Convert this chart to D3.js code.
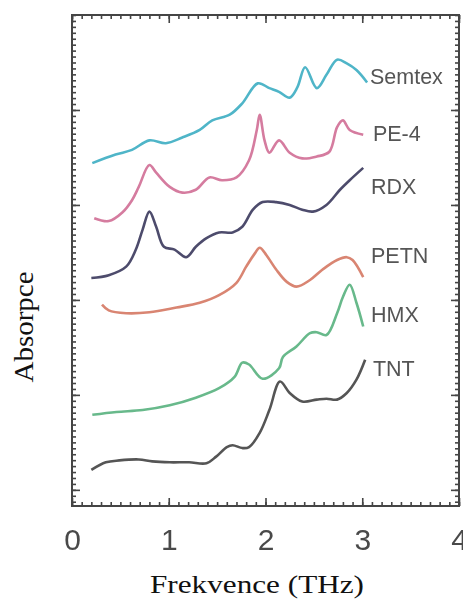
<!DOCTYPE html>
<html lang="cs">
<meta charset="utf-8">
<head>
  <script src="https://d3js.org/d3.v7.min.js"></script>
  <style>
    body { margin: 0; background: white; }
    .tick text { fill: #4a4a4a; font-family: "Liberation Sans", Arial, sans-serif; }
  </style>
</head>
<body>
<div id="chart"></div>
<script>
// frequency (THz) and absorbance (offset arbitrary units)
var semtexX = [0.21, 0.45, 0.62, 0.80, 0.97, 1.14, 1.32, 1.45, 1.63, 1.76, 1.92, 2.04, 2.14, 2.25, 2.33, 2.41, 2.53, 2.63, 2.74, 2.84, 2.94, 3.05];
var semtexY = [3.44, 3.53, 3.58, 3.68, 3.65, 3.71, 3.79, 3.89, 3.95, 4.07, 4.28, 4.23, 4.19, 4.13, 4.24, 4.45, 4.23, 4.37, 4.53, 4.49, 4.42, 4.29];

var pe4X = [0.23, 0.38, 0.52, 0.62, 0.69, 0.80, 0.87, 1.01, 1.14, 1.28, 1.42, 1.55, 1.70, 1.83, 1.91, 1.94, 1.99, 2.04, 2.14, 2.25, 2.38, 2.53, 2.66, 2.74, 2.80, 2.87, 3.01];
var pe4Y = [2.86, 2.83, 2.92, 3.05, 3.19, 3.42, 3.34, 3.19, 3.13, 3.16, 3.29, 3.26, 3.29, 3.47, 3.79, 3.95, 3.68, 3.55, 3.68, 3.55, 3.49, 3.51, 3.56, 3.82, 3.89, 3.79, 3.74];

var rdxX = [0.20, 0.38, 0.56, 0.66, 0.73, 0.80, 0.87, 0.95, 1.06, 1.18, 1.28, 1.39, 1.52, 1.66, 1.76, 1.87, 1.97, 2.11, 2.25, 2.38, 2.49, 2.63, 2.77, 2.87, 3.01];
var rdxY = [2.23, 2.26, 2.35, 2.53, 2.74, 2.93, 2.77, 2.56, 2.53, 2.45, 2.56, 2.65, 2.71, 2.71, 2.77, 2.95, 3.03, 3.03, 3.00, 2.95, 2.93, 3.00, 3.16, 3.26, 3.39];

var petnX = [0.31, 0.38, 0.56, 0.80, 1.08, 1.32, 1.52, 1.70, 1.80, 1.89, 1.94, 2.01, 2.11, 2.22, 2.32, 2.46, 2.59, 2.74, 2.84, 2.90, 3.01];
var petnY = [1.95, 1.89, 1.86, 1.87, 1.92, 1.97, 2.05, 2.18, 2.35, 2.49, 2.55, 2.47, 2.32, 2.19, 2.14, 2.21, 2.32, 2.42, 2.45, 2.42, 2.24];

var hmxX = [0.21, 0.46, 0.73, 1.01, 1.28, 1.52, 1.68, 1.76, 1.83, 1.97, 2.14, 2.18, 2.32, 2.46, 2.53, 2.63, 2.74, 2.80, 2.87, 2.94, 3.01];
var hmxY = [0.79, 0.82, 0.84, 0.89, 0.97, 1.07, 1.19, 1.34, 1.32, 1.17, 1.28, 1.40, 1.51, 1.65, 1.66, 1.63, 1.86, 2.03, 2.16, 1.97, 1.72];

var tntX = [0.20, 0.35, 0.49, 0.69, 0.83, 1.01, 1.21, 1.39, 1.49, 1.60, 1.66, 1.76, 1.83, 1.94, 2.04, 2.15, 2.25, 2.38, 2.53, 2.63, 2.74, 2.84, 2.94, 3.03];
var tntY = [0.21, 0.29, 0.31, 0.32, 0.30, 0.29, 0.29, 0.28, 0.35, 0.45, 0.47, 0.44, 0.45, 0.60, 0.84, 1.14, 1.02, 0.93, 0.95, 0.96, 0.95, 1.02, 1.16, 1.37];

var names = ["Semtex", "PE-4", "RDX", "PETN", "HMX", "TNT"];
var colors = ["#4fb5c8", "#d57b9f", "#4d4c6c", "#d98572", "#68b98b", "#555555"];
// label anchor: frequency and absorbance where each name sits
var labelX = [3.08, 3.11, 3.09, 3.09, 3.09, 3.11];
var labelY = [4.27, 3.67, 3.12, 2.39, 1.77, 1.20];

var xTicks = [0, 1, 2, 3, 4];

var series = [
  {x: semtexX, y: semtexY}, {x: pe4X, y: pe4Y}, {x: rdxX, y: rdxY},
  {x: petnX, y: petnY}, {x: hmxX, y: hmxY}, {x: tntX, y: tntY}
];

var margin = {top: 15, right: 4, bottom: 95, left: 72},
    width = 459 - margin.left,
    height = 506 - margin.top;

var svg = d3.select("#chart")
  .append("svg")
    .attr("width", 463)
    .attr("height", 601)
  .append("g")
    .attr("transform", `translate(${margin.left},${margin.top})`);

svg.append("defs").append("filter")
    .attr("id", "soft")
  .append("feGaussianBlur")
    .attr("stdDeviation", 0.55);

var x = d3.scaleLinear().domain([0, 4]).range([0, width]);
var y = d3.scaleLinear().domain([-0.17, 5.0]).range([height, 0]);

var minorX = d3.range(0, 40.5).map(function(d) { return d / 10; });
var minorY = d3.range(-2, 81).map(function(d) { return d / 16; }).filter(function(d) { return d >= -0.17; });

var axes = svg.append("g").attr("filter", "url(#soft)");

// minor ticks on all four sides
axes.append("g").attr("transform", `translate(0,${height})`)
  .call(d3.axisBottom(x).tickValues(minorX).tickSize(-4).tickFormat(""));
axes.append("g")
  .call(d3.axisTop(x).tickValues(minorX).tickSize(-4).tickFormat(""));
axes.append("g")
  .call(d3.axisLeft(y).tickValues(minorY).tickSize(-4).tickFormat(""));
axes.append("g").attr("transform", `translate(${width},0)`)
  .call(d3.axisRight(y).tickValues(minorY).tickSize(-4).tickFormat(""));

// major ticks
axes.append("g").attr("transform", `translate(0,${height})`)
  .attr("class", "xaxis")
  .call(d3.axisBottom(x).tickValues(xTicks).tickSize(-8).tickPadding(23).tickFormat(d3.format("d")));
axes.append("g")
  .call(d3.axisTop(x).tickValues(xTicks).tickSize(-8).tickFormat(""));
axes.append("g")
  .call(d3.axisLeft(y).tickValues([0, 1, 2, 3, 4]).tickSize(-8).tickFormat(""));
axes.append("g").attr("transform", `translate(${width},0)`)
  .call(d3.axisRight(y).tickValues([0, 1, 2, 3, 4]).tickSize(-8).tickFormat(""));

axes.selectAll(".domain").remove();
axes.selectAll("line").attr("stroke", "#444").attr("stroke-width", 1.6);
axes.select(".xaxis").selectAll("text").attr("font-size", 30);

axes.append("rect")
  .attr("width", width)
  .attr("height", height)
  .attr("fill", "none")
  .attr("stroke", "#444")
  .attr("stroke-width", 2);

var line = d3.line()
  .x(function(d) { return x(d[0]); })
  .y(function(d) { return y(d[1]); })
  .curve(d3.curveCatmullRom.alpha(0.5));

var plot = svg.append("g").attr("filter", "url(#soft)");

series.forEach(function(s, i) {
  var pts = s.x.map(function(v, j) { return [v, s.y[j]]; });
  plot.append("path")
    .datum(pts)
    .attr("fill", "none")
    .attr("stroke", colors[i])
    .attr("stroke-width", 2.6)
    .attr("stroke-linejoin", "round")
    .attr("d", line);

  plot.append("text")
    .attr("x", x(labelX[i]))
    .attr("y", y(labelY[i]))
    .attr("fill", "#555")
    .attr("font-family", "Liberation Sans, Arial, sans-serif")
    .attr("font-size", 21.5)
    .text(names[i]);
});

// axis titles
svg.append("text")
  .attr("x", 257 - margin.left)
  .attr("y", 593 - margin.top)
  .attr("text-anchor", "middle")
  .attr("font-family", "Liberation Serif, Times New Roman, serif")
  .attr("font-size", 26)
  .attr("textLength", 214)
  .attr("lengthAdjust", "spacingAndGlyphs")
  .attr("fill", "#111")
  .text("Frekvence (THz)");

svg.append("text")
  .attr("transform", `translate(${33 - margin.left},${327 - margin.top}) rotate(-90)`)
  .attr("text-anchor", "middle")
  .attr("font-family", "Liberation Serif, Times New Roman, serif")
  .attr("font-size", 27)
  .attr("textLength", 111)
  .attr("lengthAdjust", "spacingAndGlyphs")
  .attr("fill", "#111")
  .text("Absorpce");
</script>
</body>
</html>
